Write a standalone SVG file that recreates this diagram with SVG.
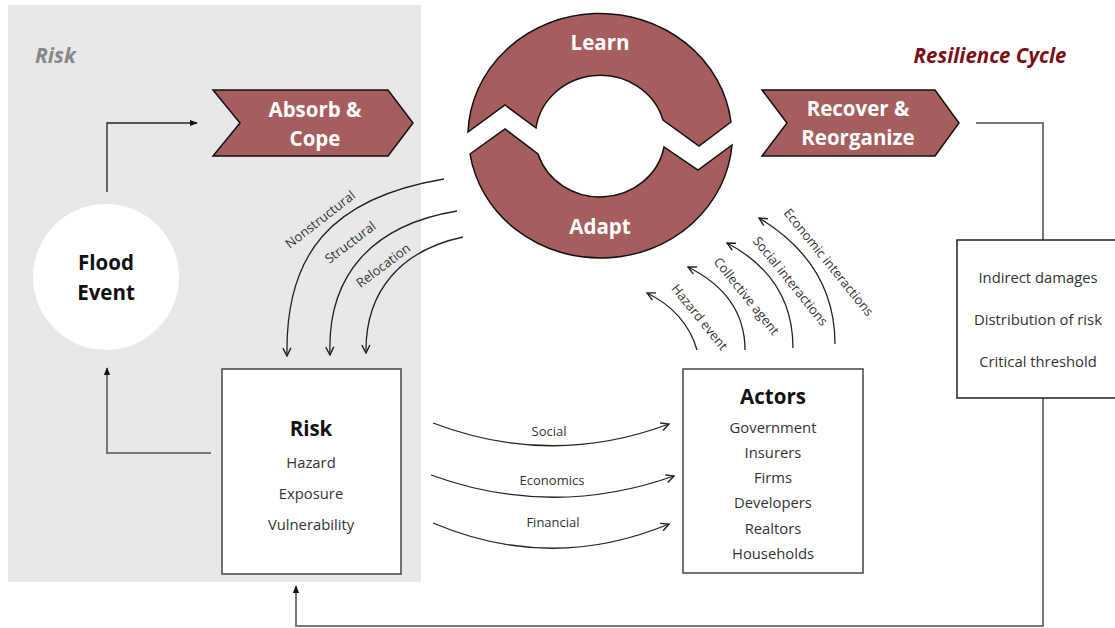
<svg xmlns="http://www.w3.org/2000/svg" width="1115" height="628" viewBox="0 0 1115 628">
<style>
.t{font-family:"Open Sans","Liberation Sans",sans-serif;}
.w{fill:#fff;font-weight:bold;font-size:20.5px;text-anchor:middle;}
.h{fill:#111;font-weight:bold;font-size:20.5px;text-anchor:middle;}
.s{fill:#333;font-size:14.8px;text-anchor:middle;}
.l{fill:#333;font-size:13px;text-anchor:middle;}
.c{fill:none;stroke:#222;stroke-width:1.3;}
.g{fill:none;stroke:#777;stroke-width:2;}
.red{fill:#A65D5E;stroke:#111;stroke-width:1.5;}
</style>
<defs>
<marker id="open" viewBox="0 0 10 10" refX="9" refY="5" markerWidth="10" markerHeight="10" markerUnits="userSpaceOnUse" orient="auto">
<path d="M1,1 L9,5 L1,9" fill="none" stroke="#222" stroke-width="1.4"/>
</marker>
<marker id="fill" viewBox="0 0 10 10" refX="9" refY="5" markerWidth="8" markerHeight="8" markerUnits="userSpaceOnUse" orient="auto">
<path d="M0,1 L10,5 L0,9 Z" fill="#111"/>
</marker>
</defs>
<rect x="8" y="5" width="413" height="577" fill="#e8e8e8"/>
<text class="t" x="35" y="63" font-size="21" font-weight="bold" font-style="italic" fill="#888">Risk</text>
<text class="t" x="990" y="63" font-size="20.5" font-weight="bold" font-style="italic" fill="#7a1016" text-anchor="middle">Resilience Cycle</text>

<g id="connectors">
<path class="c" d="M107,192 L107,123 L197,123" marker-end="url(#fill)" stroke-width="1.5"/>
<path class="g" d="M211,453 L107,453 L107,368" marker-end="url(#fill)"/>
<path class="g" d="M976,123 L1043,123 L1043,240"/>
<path class="g" d="M1043,398 L1043,626 L296,626 L296,586" marker-end="url(#fill)"/>
<path class="c" d="M444,179 C330,198 285,255 287,356" marker-end="url(#open)"/>
<path class="c" d="M457,211 C372,225 327,275 330,355" marker-end="url(#open)"/>
<path class="c" d="M463,237 C402,250 365,290 366,353" marker-end="url(#open)"/>
<path class="c" d="M697,350 C690,325 672,305 647,293" marker-end="url(#open)"/>
<path class="c" d="M745,350 C745,310 722,284 688,267" marker-end="url(#open)"/>
<path class="c" d="M793,348 C793,298 767,264 727,243" marker-end="url(#open)"/>
<path class="c" d="M835,344 C835,283 802,244 759,218" marker-end="url(#open)"/>
<path class="c" d="M433,423 Q551,468 669,424" marker-end="url(#open)"/>
<path class="c" d="M431,475 Q552,519 674,476" marker-end="url(#open)"/>
<path class="c" d="M433,523 Q551,573 669,524" marker-end="url(#open)"/>
<text class="t l" transform="translate(323,223) rotate(-38)">Nonstructural</text>
<text class="t l" transform="translate(353,246) rotate(-37)">Structural</text>
<text class="t l" transform="translate(386,269) rotate(-37)">Relocation</text>
<text class="t l" transform="translate(696,320) rotate(51)">Hazard event</text>
<text class="t l" transform="translate(743,299) rotate(51)">Collective agent</text>
<text class="t l" transform="translate(787,284) rotate(51)">Social interactions</text>
<text class="t l" transform="translate(825,265) rotate(51)">Economic interactions</text>
<text class="t l" x="549" y="436">Social</text>
<text class="t l" x="552" y="485">Economics</text>
<text class="t l" x="553" y="527">Financial</text>
</g>

<g id="absorb">
<path class="red" d="M213,90 L388,90 L413,123 L388,156 L213,156 L240,123 Z"/>
<text class="t w" x="315" y="117">Absorb &amp;</text>
<text class="t w" x="315" y="146">Cope</text>
</g>

<g id="recover">
<path class="red" d="M762,90 L935,90 L959,123 L935,156 L762,156 L787,123 Z"/>
<text class="t w" x="858" y="116">Recover &amp;</text>
<text class="t w" x="858" y="145">Reorganize</text>
</g>

<g id="cycle">
<path class="red" d="M468,132 A132,123 0 0 1 731,122 L699,146 L663,120 A65,61 0 0 0 536,128 L505,105 Z"/>
<path class="red" d="M470,154 L505,129 L538,154 A65,61 0 0 0 664,147 L698,170 L732,145 A132,123 0 0 1 470,154 Z"/>
<text class="t w" x="600" y="50">Learn</text>
<text class="t w" x="600" y="234">Adapt</text>
</g>

<g id="flood">
<circle cx="106" cy="277" r="73" fill="#fff"/>
<text class="t h" x="106" y="270">Flood</text>
<text class="t h" x="106" y="300">Event</text>
</g>

<g id="risk">
<rect x="222" y="369" width="179" height="205" fill="#fff" stroke="#444" stroke-width="1.5"/>
<text class="t h" x="311" y="436">Risk</text>
<text class="t s" x="311" y="468">Hazard</text>
<text class="t s" x="311" y="499">Exposure</text>
<text class="t s" x="311" y="530">Vulnerability</text>
</g>

<g id="actors">
<rect x="683" y="369" width="180" height="204" fill="#fff" stroke="#444" stroke-width="1.5"/>
<text class="t h" x="773" y="404">Actors</text>
<text class="t s" x="773" y="433">Government</text>
<text class="t s" x="773" y="458">Insurers</text>
<text class="t s" x="773" y="483">Firms</text>
<text class="t s" x="773" y="508">Developers</text>
<text class="t s" x="773" y="534">Realtors</text>
<text class="t s" x="773" y="559">Households</text>
</g>

<g id="indicators">
<rect x="957" y="240" width="170" height="158" fill="#fff" stroke="#222" stroke-width="1.5"/>
<text class="t s" x="1038" y="283">Indirect damages</text>
<text class="t s" x="1038" y="325">Distribution of risk</text>
<text class="t s" x="1038" y="367">Critical threshold</text>
</g>
</svg>
